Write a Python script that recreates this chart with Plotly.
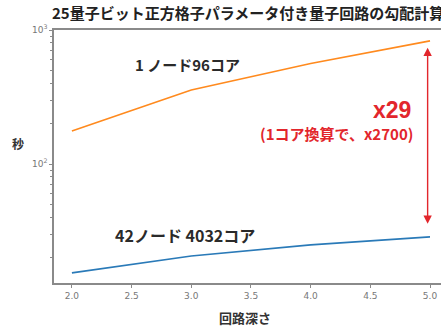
import math
import plotly.graph_objects as go

# Circuit depth vs. gradient computation time (seconds, log scale)
depth = [2, 3, 4, 5]
time_1node = [176, 357, 562, 830]     # 1 node, 96 cores
time_42node = [15.4, 20.6, 24.9, 28.6]  # 42 nodes, 4032 cores

x_ticks = [2.0, 2.5, 3.0, 3.5, 4.0, 4.5, 5.0]
y_ticks = [100, 1000]
y_tick_text = ["10<sup>2</sup>", "10<sup>3</sup>"]
y_minor = [20, 30, 40, 50, 60, 70, 80, 90, 200, 300, 400, 500, 600, 700, 800, 900]

title_text = "25量子ビット正方格子パラメータ付き量子回路の勾配計算"
label_1node = "1 ノード96コア"
label_42node = "42ノード 4032コア"
ratio_text = "x29"
ratio_note = "(1コア換算で、x2700)"

FONT = "Noto Sans CJK JP"
RED = "#e2262c"
AXIS = "#8a8a8a"

fig = go.Figure()
fig.add_trace(go.Scatter(x=depth, y=time_1node, mode="lines",
                         line=dict(color="#ff8a1e", width=1.6), showlegend=False))
fig.add_trace(go.Scatter(x=depth, y=time_42node, mode="lines",
                         line=dict(color="#2a7ab8", width=1.6), showlegend=False))

fig.update_layout(
    width=441, height=329,
    margin=dict(l=54, r=0, t=30, b=46),
    plot_bgcolor="white", paper_bgcolor="white",
    font=dict(family=FONT),
    xaxis=dict(range=[1.85, 5.092], tickvals=x_ticks, tickformat=".1f",
               showgrid=False, zeroline=False,
               showline=True, linecolor=AXIS, linewidth=1.5, mirror=True,
               ticks="outside", ticklen=3, tickcolor=AXIS,
               tickfont=dict(size=9, color="#777777", family="DejaVu Sans")),
    yaxis=dict(type="log", range=[1.112, 3.0], tickvals=y_ticks, ticktext=y_tick_text,
               showgrid=False, zeroline=False,
               showline=True, linecolor=AXIS, linewidth=1.5,
               ticks="outside", ticklen=3, tickcolor=AXIS,
               minor=dict(tickvals=y_minor, ticks="outside", ticklen=2, tickcolor=AXIS,
                          showgrid=False),
               tickfont=dict(size=9, color="#777777", family="DejaVu Sans")),
)

# Two-headed arrow between the end values of the series at the deepest circuit
x_end = depth[-1] - 0.02
top = time_1node[-1] * 0.89
bottom = time_42node[-1] * 1.22
fig.add_annotation(x=x_end, y=math.log10(top), ax=x_end, ay=math.log10(bottom),
                   xref="x", yref="y", axref="x", ayref="y",
                   showarrow=True, arrowside="end+start", arrowhead=2, arrowsize=1.2,
                   arrowwidth=1.4, arrowcolor=RED, text="")

annotations = [
    dict(text=title_text, x=-0.0103, y=1.071, xref="paper", yref="paper",
         xanchor="left", yanchor="middle",
         font=dict(size=15, color="#222222", family=FONT, weight="bold")),
    dict(text="秒", x=-0.093, y=0.553, xref="paper", yref="paper",
         xanchor="center", yanchor="middle",
         font=dict(size=12, color="#333333", family=FONT, weight="bold")),
    dict(text="回路深さ", x=0.494, y=-0.138, xref="paper", yref="paper",
         xanchor="center", yanchor="middle",
         font=dict(size=13, color="#333333", family=FONT, weight="bold")),
    dict(text=label_1node, x=2.97, y=2.739, xref="x", yref="y",
         xanchor="center", yanchor="middle",
         font=dict(size=15, color="#2a2a2a", family=FONT, weight="bold")),
    dict(text=label_42node, x=2.95, y=1.47, xref="x", yref="y",
         xanchor="center", yanchor="middle",
         font=dict(size=16, color="#2a2a2a", family=FONT, weight="bold")),
    dict(text=ratio_text, x=4.857, y=2.40, xref="x", yref="y",
         xanchor="right", yanchor="middle",
         font=dict(size=23, color=RED, family="Liberation Sans", weight="bold")),
    dict(text=ratio_note, x=4.87, y=2.231, xref="x", yref="y",
         xanchor="right", yanchor="middle",
         font=dict(size=15, color=RED, family=FONT, weight="bold")),
]
for a in annotations:
    fig.add_annotation(showarrow=False, **a)

fig.write_html("out.html")
